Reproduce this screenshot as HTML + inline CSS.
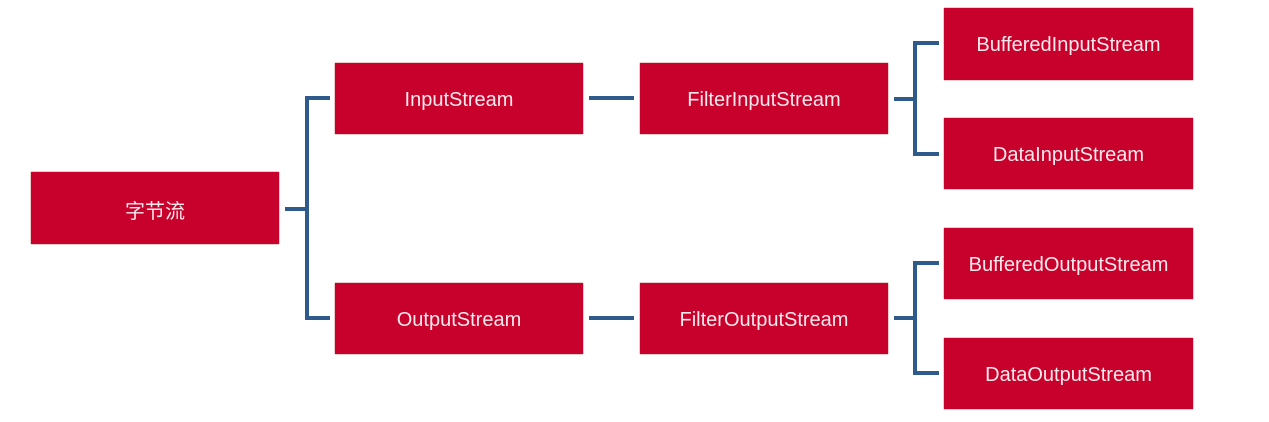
<!DOCTYPE html>
<html><head><meta charset="utf-8"><style>
html,body{margin:0;padding:0;background:#fff;width:1269px;height:422px;overflow:hidden;position:relative}
.b{position:absolute;background:#c8002c;color:#fbe9ec;display:flex;align-items:center;justify-content:center;font-family:"Liberation Sans","Noto Sans CJK SC",sans-serif;font-size:20px;box-shadow:0 0 1px #900;box-sizing:border-box;padding-top:3px}
svg{position:absolute;left:0;top:0}
</style></head><body>
<svg width="1269" height="422"><g stroke="#2f5b8c" stroke-width="4" fill="none">
<path d="M285 209H307M330 98H307V318H330"/>
<path d="M589 98H634M589 318H634"/>
<path d="M894 99H915M939 43H915V154H939"/>
<path d="M894 318H915M939 263H915V373H939"/>
</g></svg>
<div class="b" style="left:31px;top:172px;width:248px;height:72px">字节流</div>
<div class="b" style="left:335px;top:63px;width:248px;height:71px">InputStream</div>
<div class="b" style="left:335px;top:283px;width:248px;height:71px">OutputStream</div>
<div class="b" style="left:640px;top:63px;width:248px;height:71px">FilterInputStream</div>
<div class="b" style="left:640px;top:283px;width:248px;height:71px">FilterOutputStream</div>
<div class="b" style="left:944px;top:8px;width:249px;height:72px">BufferedInputStream</div>
<div class="b" style="left:944px;top:118px;width:249px;height:71px">DataInputStream</div>
<div class="b" style="left:944px;top:228px;width:249px;height:71px">BufferedOutputStream</div>
<div class="b" style="left:944px;top:338px;width:249px;height:71px">DataOutputStream</div>
</body></html>
